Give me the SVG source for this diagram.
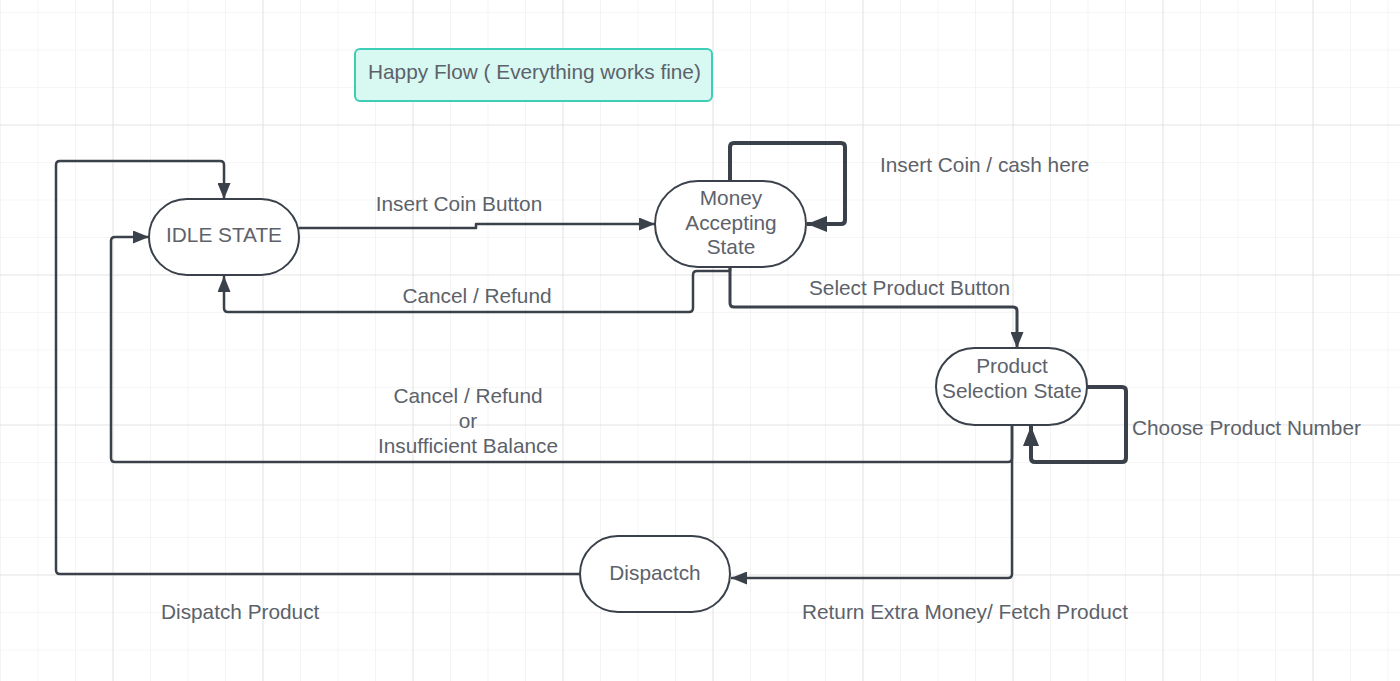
<svg xmlns="http://www.w3.org/2000/svg" width="1400" height="681" viewBox="0 0 1400 681">
<defs>
<style>
.t{font-family:"Liberation Sans",Arial,sans-serif;font-size:20.8px;fill:#5d626a}
.tc{text-anchor:middle}
.node{fill:#ffffff;stroke:#3a414a;stroke-width:2}
.c{fill:none;stroke:#3a414a;stroke-width:2.5;stroke-linejoin:round}
.thick{stroke-width:4}
.mid{stroke-width:3}
</style>
<pattern id="g" width="37.5" height="37.5" patternUnits="userSpaceOnUse" x="0" y="12">
<path d="M0,0 H37.5 M0,0 V37.5" fill="none" stroke="#ededed" stroke-width="1.2"/>
</pattern>
<pattern id="G" width="150" height="150" patternUnits="userSpaceOnUse" x="112.5" y="124.5">
<path d="M0,0 H150 M0,0 V150" fill="none" stroke="#e1e1e1" stroke-width="1.5"/>
</pattern>
<marker id="a" markerUnits="userSpaceOnUse" markerWidth="17" markerHeight="13" refX="16" refY="6.5" orient="auto">
<path d="M0,0 L16,6.5 L0,13 z" fill="#3a414a"/>
</marker>
<marker id="ab" markerUnits="userSpaceOnUse" markerWidth="21" markerHeight="16" refX="20" refY="8" orient="auto">
<path d="M0,0 L20,8 L0,16 z" fill="#3a414a"/>
</marker>
</defs>
<rect width="1400" height="681" fill="#ffffff"/>
<rect width="1400" height="681" fill="url(#g)"/>
<rect width="1400" height="681" fill="url(#G)"/>

<g id="connectors">
<path class="c" d="M299,228 H476 V224 H655" marker-end="url(#a)"/>
<path class="c thick" d="M730,181 V147 Q730,143 734,143 H841 Q845,143 845,147 V220 Q845,224 841,224 H807" marker-end="url(#ab)"/>
<path class="c" d="M730,267 V271 H697 Q693,271 693,275 V308 Q693,312 689,312 H228 Q224,312 224,308 V276" marker-end="url(#a)"/>
<path class="c mid" d="M730,267 V303 Q730,307 734,307 H1013 Q1017,307 1017,311 V348" marker-end="url(#a)"/>
<path class="c thick" d="M1087,387 H1122 Q1126,387 1126,391 V458 Q1126,462 1122,462 H1035 Q1031,462 1031,458 V426" marker-end="url(#ab)"/>
<path class="c" d="M1012,425 V458 Q1012,462 1008,462 H115 Q111,462 111,458 V241 Q111,237 115,237 H149" marker-end="url(#a)"/>
<path class="c" d="M1012,425 V574 Q1012,578 1008,578 H731" marker-end="url(#a)"/>
<path class="c" d="M580,574 H60 Q56,574 56,570 V165 Q56,161 60,161 H220 Q224,161 224,165 V199" marker-end="url(#a)"/>
</g>

<g id="labels">
<text class="t tc" x="459" y="211">Insert Coin Button</text>
<text class="t" x="880" y="172">Insert Coin / cash here</text>
<text class="t tc" x="477" y="303">Cancel / Refund</text>
<text class="t" x="809" y="295">Select Product Button</text>
<text class="t tc" x="468" y="403">Cancel / Refund</text>
<text class="t tc" x="468" y="428">or</text>
<text class="t tc" x="468" y="453">Insufficient Balance</text>
<text class="t" x="1132" y="435">Choose Product Number</text>
<text class="t" x="161" y="619">Dispatch Product</text>
<text class="t" x="802" y="619">Return Extra Money/ Fetch Product</text>
</g>

<g id="happy-flow">
<rect x="355" y="49" width="357" height="52" rx="5" fill="#d8f8f2" stroke="#3ecdb5" stroke-width="2"/>
<text class="t" x="368" y="79">Happy Flow ( Everything works fine)</text>
</g>

<g id="idle-state">
<rect class="node" x="149" y="199" width="150" height="76" rx="38"/>
<text class="t tc" x="224" y="242">IDLE STATE</text>
</g>

<g id="money-accepting-state">
<rect class="node" x="655" y="181" width="151" height="86" rx="43"/>
<text class="t tc" x="731" y="205">Money</text>
<text class="t tc" x="731" y="230">Accepting</text>
<text class="t tc" x="731" y="254">State</text>
</g>

<g id="product-selection-state">
<rect class="node" x="936" y="348" width="151" height="77" rx="38.5"/>
<text class="t tc" x="1012" y="373">Product</text>
<text class="t tc" x="1012" y="398">Selection State</text>
</g>

<g id="dispatch">
<rect class="node" x="580" y="536" width="150" height="76" rx="38"/>
<text class="t tc" x="655" y="580">Dispactch</text>
</g>
</svg>
